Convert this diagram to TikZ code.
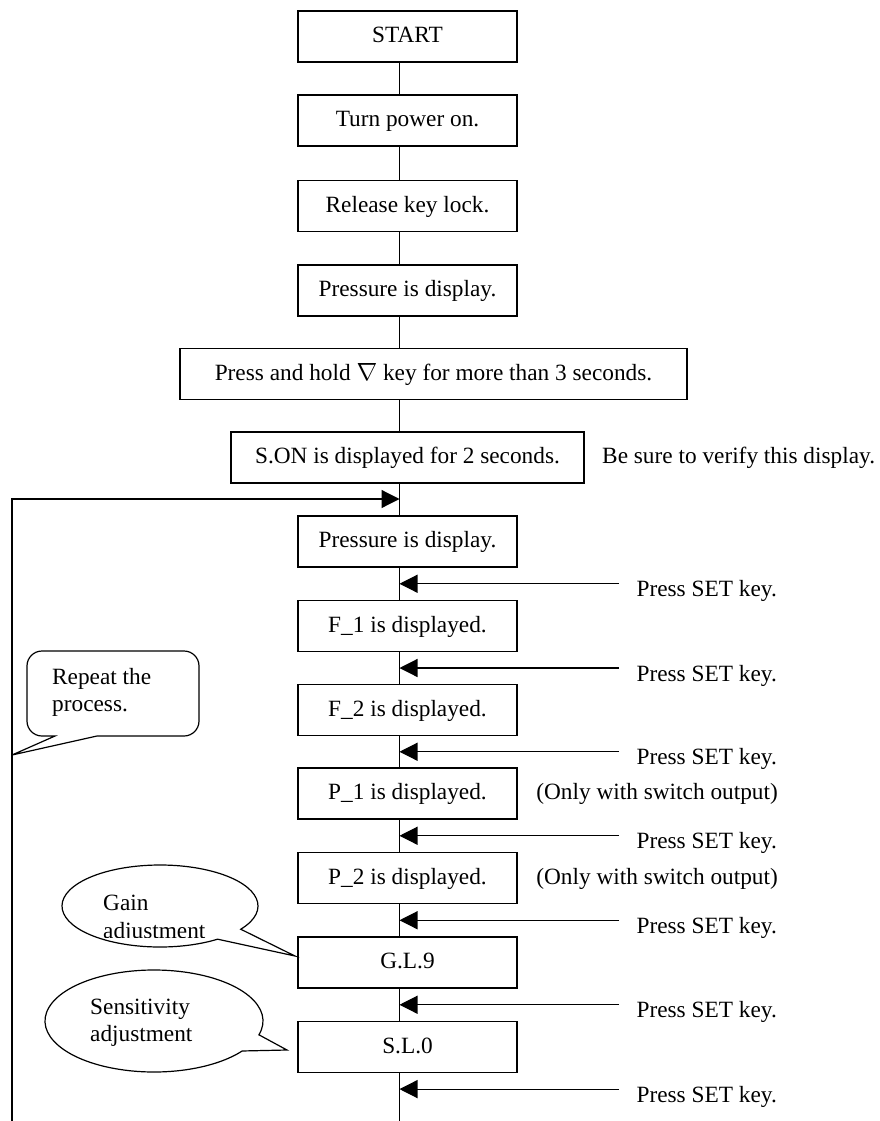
\documentclass[tikz,border=0pt]{standalone}
\usepackage{fontspec}
\setmainfont{Liberation Serif}
\usetikzlibrary{arrows.meta,calc}
\begin{document}
\begin{tikzpicture}[x=1pt,y=-1pt,
  every node/.style={font=\fontsize{23.3}{28}\selectfont},
  box/.style={draw, line width=1.2pt, minimum width=219pt, minimum height=51pt,
    inner sep=0pt, text height=16.8pt, text depth=4pt, fill=white},
  conn/.style={line width=1.2pt},
  setarrow/.style={line width=1.2pt, -{Triangle[length=18pt,width=18pt]}},
  lbl/.style={anchor=base east, inner sep=0pt},
  note/.style={anchor=base west, inner sep=0pt},
  bubble/.style={line width=1.2pt, fill=white}
  ]
\useasboundingbox (0,0) rectangle (880,1121);
\coordinate (spine) at (399.5,0);
\coordinate (rx) at (619,0);
\coordinate (lx) at (777,0);

% boxes
\node[box] (start) at (407.5,36.5) {START};
\node[box] (power) at (407.5,120.5) {Turn power on.};
\node[box] (unlock) at (407.5,206) {Release key lock.};
\node[box] (pd1) at (407.5,290.5) {Pressure is display.};
\node[box, minimum width=507pt] (hold) at (433.5,374) {Press and hold $\nabla$ key for more than 3 seconds.};
\node[box, minimum width=353pt] (son) at (407.5,457.5) {S.ON is displayed for 2 seconds.};
\node[box] (pd2) at (407.5,541.5) {Pressure is display.};
\node[box] (f1) at (407.5,626) {F\_1 is displayed.};
\node[box] (f2) at (407.5,710) {F\_2 is displayed.};
\node[box] (p1) at (407.5,793.5) {P\_1 is displayed.};
\node[box] (p2) at (407.5,878) {P\_2 is displayed.};
\node[box] (gl) at (407.5,962.5) {G.L.9};
\node[box] (sl) at (407.5,1047) {S.L.0};
\coordinate (bottom) at (399.5,1121);

% spine connectors
\foreach \a/\b in {start/power, power/unlock, unlock/pd1, pd1/hold, hold/son, son/pd2,
                   pd2/f1, f1/f2, f2/p1, p1/p2, p2/gl, gl/sl}
  \draw[conn] (\a.south -| spine) -- (\b.north -| spine);
\draw[conn] (sl.south -| spine) -- (bottom);

% Press SET key arrows
\foreach \a/\b/\i in {pd2/f1/1, f1/f2/2, f2/p1/3, p1/p2/4, p2/gl/5, gl/sl/6} {
  \coordinate (m\i) at ($(\a.south)!0.5!(\b.north)$);
  \draw[setarrow] (m\i -| rx) -- (m\i -| spine);
  \node[lbl] (k\i) at ($(m\i -| lx)+(0,13)$) {Press SET key.};
}
\coordinate (m7) at ($(sl.south)+(0,16)$);
\draw[setarrow] (m7 -| rx) -- (m7 -| spine);
\node[lbl] (k7) at ($(m7 -| lx)+(0,13)$) {Press SET key.};

% side notes
\node[note] (verify) at ($(son.center -| 602,0)+(0,6.4)$) {Be sure to verify this display.};
\node[lbl] (only1) at ($(p1.center -| 778,0)+(0,6.4)$) {(Only with switch output)};
\node[lbl] (only2) at ($(p2.center -| 778,0)+(0,6.4)$) {(Only with switch output)};

% loop back
\coordinate (loopbot) at (12,1121);
\coordinate (looptop) at (12,499);
\draw[setarrow] (loopbot) -- (looptop) -- (looptop -| spine);

% Repeat callout
\draw[bubble] (97,736) -- (184,736) arc[start angle=270, end angle=360, radius=15pt]
  -- (199,666) arc[start angle=0, end angle=90, radius=15pt]
  -- (42,651) arc[start angle=90, end angle=180, radius=15pt]
  -- (27,721) arc[start angle=180, end angle=270, radius=15pt]
  -- (55,736) -- (12,755) -- cycle;
\node[note] (rep1) at (52,684) {Repeat the};
\node[note] (rep2) at (52,711) {process.};

% Gain callout
\coordinate (gc) at (160,906);
\draw[bubble] ($(gc)+(-34.5:98pt and 41pt)$) arc[start angle=-34.5, end angle=306, x radius=98pt, y radius=41pt]
  -- (295,956) -- cycle;
\node[note] (gain1) at (103,910) {Gain};
\begin{scope}
  \clip (60,915) rectangle (300,937.5);
  \node[note] (gain2) at (103,938) {adjustment};
\end{scope}

% Sensitivity callout
\coordinate (sc) at (154,1021);
\draw[bubble] ($(sc)+(-15.7:109pt and 51pt)$) arc[start angle=-15.7, end angle=324, x radius=109pt, y radius=51pt]
  -- (287,1050) -- cycle;
\node[note] (sens1) at (90,1014) {Sensitivity};
\node[note] (sens2) at (90,1041) {adjustment};
\end{tikzpicture}
\end{document}
